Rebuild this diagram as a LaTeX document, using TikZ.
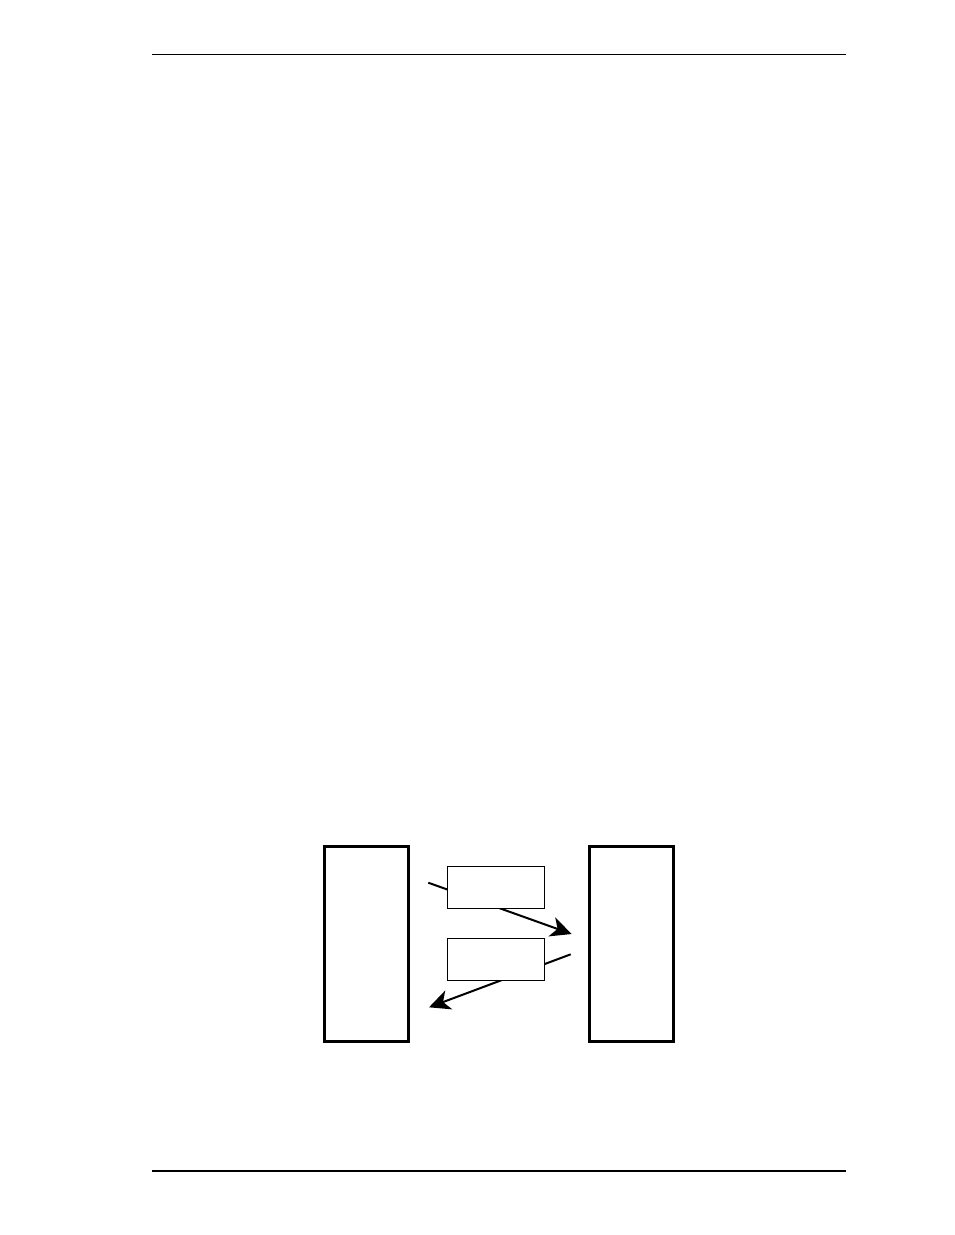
\documentclass[tikz,border=0pt]{standalone}
\usetikzlibrary{arrows.meta}
\begin{document}
\begin{tikzpicture}[x=1pt,y=-1pt,
  bigbox/.style={draw,line width=3pt,fill=white,inner sep=0pt,minimum width=84pt,minimum height=195pt},
  msgbox/.style={draw,line width=1pt,fill=white,inner sep=0pt,minimum width=97pt,minimum height=42pt},
  flow/.style={line width=2pt,-{Stealth[length=21pt,width=20pt,inset=6pt]}}]
\useasboundingbox (0,0) rectangle (954,1235);
\draw[line width=1pt] (152,54.3) coordinate (h1) -- (846,54.3) coordinate (h2);
\draw[line width=2pt] (152,1170.7) coordinate (f1) -- (846,1170.7) coordinate (f2);
\coordinate (a1s) at (428.3,882.7);
\coordinate (a1e) at (571.7,934);
\coordinate (a2s) at (570.7,954.3);
\coordinate (a2e) at (429,1007.3);
\draw[flow] (a1s) -- (a1e);
\draw[flow] (a2s) -- (a2e);
\node[bigbox] (left) at (366,944) {};
\node[bigbox] (right) at (631.5,944) {};
\node[msgbox] (m1) at (496,887.3) {};
\node[msgbox] (m2) at (496,959.7) {};
\end{tikzpicture}
\end{document}
